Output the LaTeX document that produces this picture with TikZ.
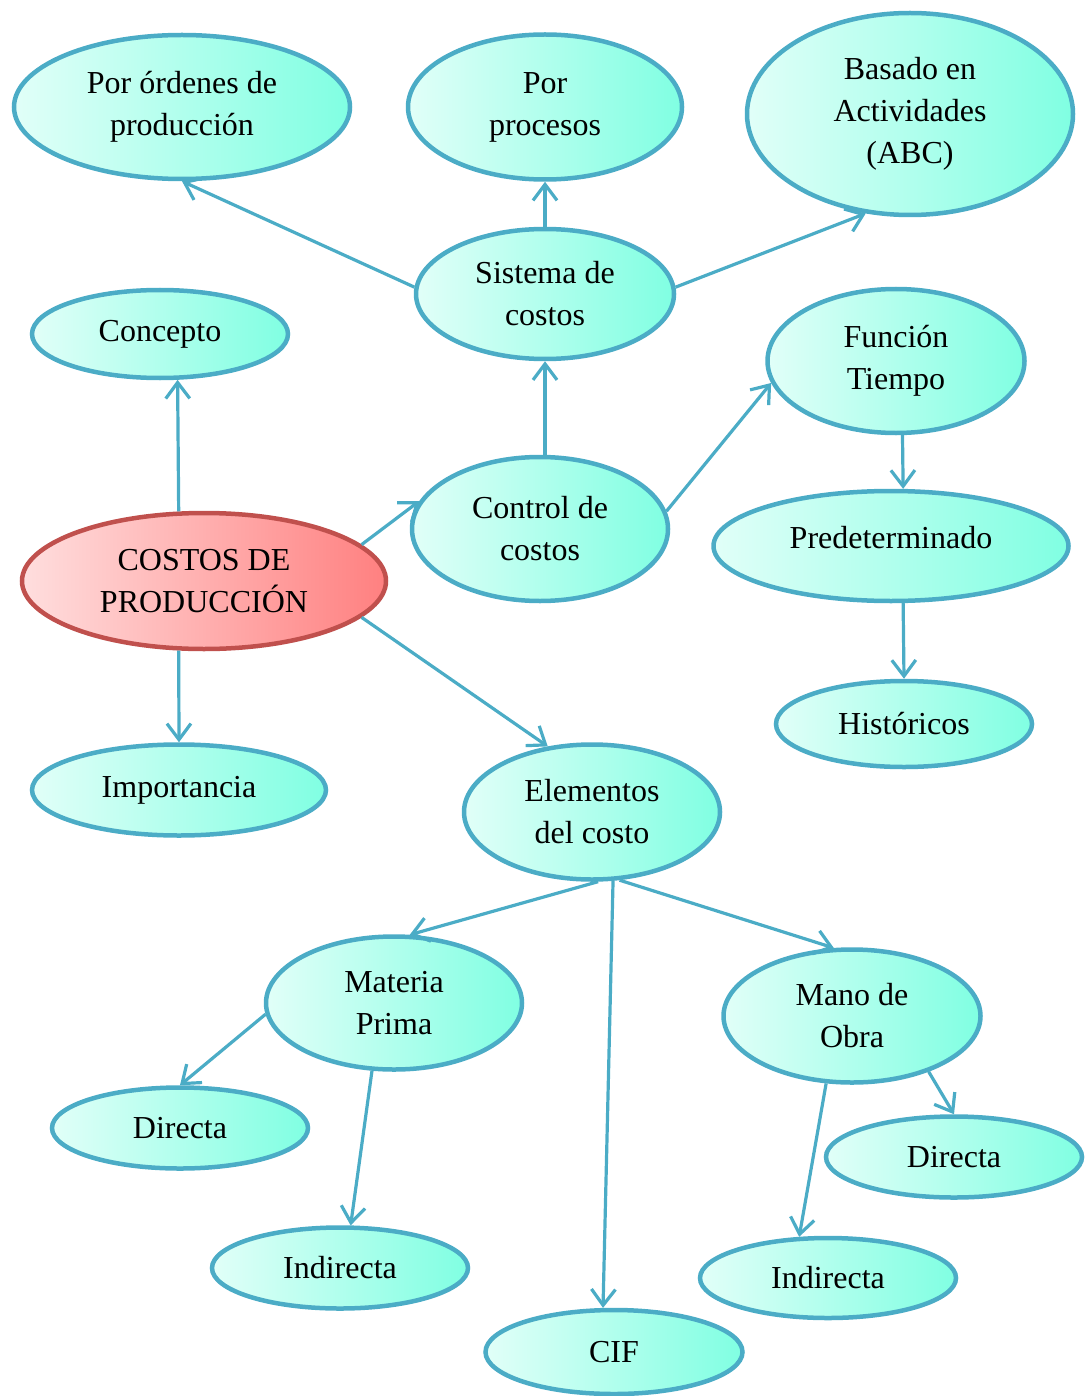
\documentclass[tikz,border=0pt]{standalone}
\usepackage{fontspec}
\setmainfont{Liberation Serif}
\usetikzlibrary{shapes.geometric,arrows.meta}

\definecolor{tealL}{RGB}{225,255,248}
\definecolor{tealR}{RGB}{128,255,226}
\definecolor{tealB}{RGB}{75,172,198}
\definecolor{redL}{RGB}{255,222,222}
\definecolor{redR}{RGB}{255,128,128}
\definecolor{redB}{RGB}{192,80,77}

\begin{document}
\begin{tikzpicture}[x=1pt,y=-1pt,
    bubble/.style={ellipse, draw=tealB, line width=4.5pt, left color=tealL, right color=tealR,
        inner sep=0pt, align=center, font=\fontsize{32}{42}\selectfont},
    root/.style={bubble, draw=redB, left color=redL, right color=redR},
    link/.style={draw=tealB, line width=3.2pt, -{Straight Barb[length=16pt,width=24pt]}}]

    \useasboundingbox (0,0) rectangle (1086,1396);

    % Main node
    \node[root, minimum width=364pt, minimum height=136pt] (cost) at (204,581) {COSTOS DE\\PRODUCCIÓN};

    % Top row: cost systems
    \node[bubble, minimum width=336pt, minimum height=144pt] (ord) at (182,107) {Por órdenes de\\producción};
    \node[bubble, minimum width=274pt, minimum height=145pt] (proc) at (545,107) {Por\\procesos};
    \node[bubble, minimum width=326pt, minimum height=202pt] (abc) at (910,114) {Basado en\\Actividades\\(ABC)};
    \node[bubble, minimum width=258pt, minimum height=130pt] (sist) at (545,294) {Sistema de\\costos};

    % Left side
    \node[bubble, minimum width=256pt, minimum height=88pt] (conc) at (160,334) {Concepto};
    \node[bubble, minimum width=294pt, minimum height=91pt] (imp) at (179,790) {Importancia};

    % Control de costos branch
    \node[bubble, minimum width=256pt, minimum height=144pt] (ctrl) at (540,529) {Control de\\costos};
    \node[bubble, minimum width=257pt, minimum height=144pt] (func) at (896,361) {Función\\Tiempo};
    \node[bubble, minimum width=355pt, minimum height=110pt, text depth=18pt] (pred) at (891,546) {Predeterminado};
    \node[bubble, minimum width=256pt, minimum height=86pt] (hist) at (904,724) {Históricos};

    % Elementos del costo branch
    \node[bubble, minimum width=256pt, minimum height=135pt] (elem) at (592,812) {Elementos\\del costo};
    \node[bubble, minimum width=256pt, minimum height=133pt] (mat) at (394,1003) {Materia\\Prima};
    \node[bubble, minimum width=257pt, minimum height=133pt] (mano) at (852,1016) {Mano de\\Obra};
    \node[bubble, minimum width=257pt, minimum height=84pt] (cif) at (614,1352) {CIF};
    \node[bubble, minimum width=256pt, minimum height=81pt] (dirA) at (180,1128) {Directa};
    \node[bubble, minimum width=256pt, minimum height=81pt] (indA) at (340,1268) {Indirecta};
    \node[bubble, minimum width=256pt, minimum height=81pt] (dirB) at (954,1157) {Directa};
    \node[bubble, minimum width=256pt, minimum height=80pt] (indB) at (828,1278) {Indirecta};

    % Connectors
    \draw[link] (cost.110) -- (conc.291);
    \draw[link] (cost.250) -- (imp.north);
    \draw[link] (cost.13) -- (ctrl.167);
    \draw[link] (cost.347) -- (elem.124);

    \draw[link] (sist.south |- ctrl.north) -- (sist.south);
    \draw[link] (sist.177) -- (ord.south);
    \draw[link] (sist.north) -- (proc.south);
    \draw[link] (sist.3) -- (abc.246);

    \draw[link] (ctrl.8) -- (func.190);
    \draw[link] (func.275) -- (pred.78);
    \draw[link] (pred.282) -- (hist.north);

    \draw[link] (elem.275) -- (mat.77);
    \draw[link] (elem.287) -- (cif.104);
    \draw[link] (elem.292) -- (mano.105);

    \draw[link] (mat.185) -- (dirA.north);
    \draw[link] (mat.252) -- (indA.76);
    \draw[link] (mano.324) -- (dirB.north);
    \draw[link] (mano.249) -- (indB.125);

\end{tikzpicture}
\end{document}
